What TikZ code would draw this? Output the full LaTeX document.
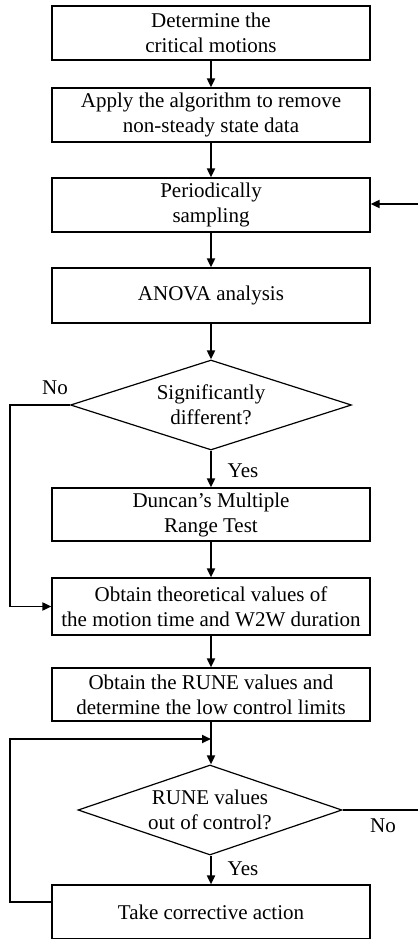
\documentclass[tikz,border=0pt]{standalone}
\usepackage{fontspec}
\setmainfont{Liberation Serif}
\usetikzlibrary{shapes.geometric,arrows.meta}
\tikzset{
  stepbox/.style={draw, line width=1.2pt, rectangle, minimum width=318pt, inner sep=0pt, align=center, font=\fontsize{21}{25}\selectfont},
  decide/.style={draw, line width=1.2pt, diamond, inner sep=0pt},
  conn/.style={line width=1.8pt, -{Triangle[length=9pt,width=8pt]}},
  plainconn/.style={line width=1.8pt},
  lab/.style={font=\fontsize{21}{25}\selectfont, inner sep=0pt, align=center}
}
\begin{document}
\begin{tikzpicture}[x=1pt,y=-1pt]
\useasboundingbox (0,0) rectangle (418,939);
\node[stepbox, minimum height=54pt] (b1) at (211,33) {Determine the\\critical motions};
\node[stepbox, minimum height=54pt] (b2) at (211,115) {Apply the algorithm to remove\\non-steady state data};
\node[stepbox, minimum height=54pt] (b3) at (211,205) {Periodically\\sampling};
\node[stepbox, minimum height=55pt] (b4) at (211,295.5) {ANOVA analysis};
\node[decide, minimum width=281pt, minimum height=90pt] (d1) at (211,405) {};
\node[lab] (d1t) at (d1.center) {Significantly\\different?};
\node[stepbox, minimum height=53pt] (b5) at (211,514.5) {Duncan’s Multiple\\Range Test};
\node[stepbox, minimum height=57pt] (b6) at (211,606.5) {Obtain theoretical values of\\the motion time and W2W duration};
\node[stepbox, minimum height=53pt] (b7) at (211,694.5) {Obtain the RUNE values and\\determine the low control limits};
\node[decide, minimum width=264pt, minimum height=90pt] (d2) at (210,810) {};
\node[lab] (d2t) at (d2.center) {RUNE values\\out of control?};
\node[stepbox, minimum height=54pt] (b8) at (211,912) {Take corrective action};

\node[lab] (no1) at (55,388) {No};
\node[lab] (yes1) at (243,471) {Yes};
\node[lab] (no2) at (383,826) {No};
\node[lab] (yes2) at (243,869) {Yes};

\coordinate (j) at (211,739);
\coordinate (r1) at (418,204);
\coordinate (r2) at (418,810);
\coordinate (l8) at (52,902);

\draw[conn] (b1) -- (b2);
\draw[conn] (b2) -- (b3);
\draw[conn] (b3) -- (b4);
\draw[conn] (b4) -- (d1.north);
\draw[conn] (d1.south) -- (b5);
\draw[conn] (b5) -- (b6);
\draw[conn] (b6) -- (b7);
\draw[conn] (b7.south) -- (b7.south |- d2.north);
\draw[conn] (d2.south -| b8.north) -- (b8.north);
\draw[conn] (d1.west) -- (10,405) |- (b6.west);
\draw[conn] (l8) -- (10,902) |- (j);
\draw[plainconn] (d2.east) -- (r2);
\draw[conn] (r1) -- (b3.east |- r1);
\end{tikzpicture}
\end{document}
